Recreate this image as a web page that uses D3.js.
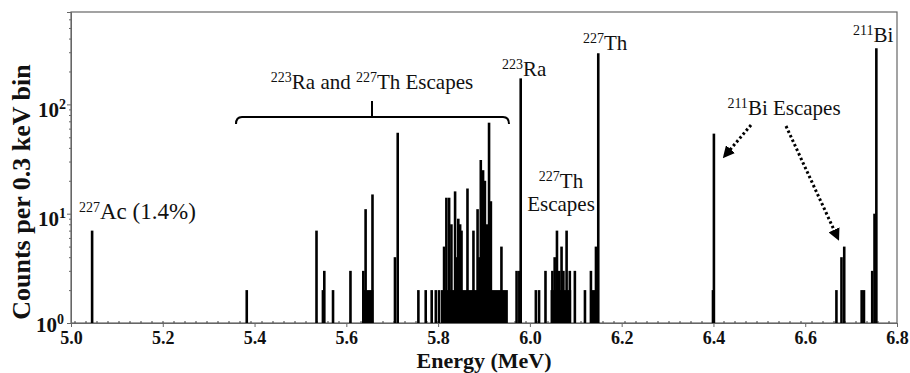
<!DOCTYPE html>
<html>
<head>
<meta charset="utf-8">
<script src="https://cdn.jsdelivr.net/npm/d3@7/dist/d3.min.js"></script>
<style>
  body { margin: 0; background: #fff; }
  svg { display: block; font-family: "Liberation Serif", "Times New Roman", serif; }
  .tick text { font-family: "Liberation Serif", serif; font-weight: bold; fill: #111; }
  .ann { font-size: 21px; fill: #111; white-space: pre; }
</style>
</head>
<body>
<svg width="910" height="373"></svg>
<script>
// spike energies (MeV) and counts per 0.3 keV bin
const spikeE = [5.046, 5.383, 5.535, 5.549, 5.552, 5.571, 5.609, 5.637, 5.642, 5.657,
  5.706, 5.712, 5.757, 5.773, 5.786, 5.795, 5.802, 5.813, 5.818, 5.824, 5.829, 5.837,
  5.840, 5.844, 5.848, 5.851, 5.864, 5.877, 5.886, 5.890, 5.893, 5.898, 5.902, 5.907,
  5.911, 5.915, 5.938, 5.971, 5.977, 5.980, 6.013, 6.020, 6.034, 6.049, 6.054, 6.059,
  6.064, 6.069, 6.073, 6.080, 6.087, 6.098, 6.120, 6.133, 6.144, 6.149, 6.399, 6.401,
  6.668, 6.679, 6.685, 6.723, 6.728, 6.746, 6.751, 6.755];
const spikeC = [7, 2, 7, 2, 3, 2, 3, 3, 11, 15,
  4, 55, 2, 2, 2, 2, 2, 5, 14, 14, 8, 16,
  4, 9, 8, 7, 17, 7, 11, 4, 31, 25, 20, 8,
  68, 13, 5, 3, 3, 173, 2, 2, 3, 3, 4, 7,
  3, 5, 3, 7, 3, 3, 2, 3, 5, 294, 2, 54,
  2, 4, 5, 2, 2, 3, 10, 326];

// dense low-count regions: start, end, counts
const blockStart = [5.637, 5.806, 6.045, 6.134];
const blockEnd = [5.659, 5.952, 6.090, 6.146];
const blockC = [2, 2, 2, 2];

const xTicks = [5.0, 5.2, 5.4, 5.6, 5.8, 6.0, 6.2, 6.4, 6.6, 6.8];
const yMajor = [1, 10, 100];
const yMinor = [2, 3, 4, 5, 6, 7, 8, 9, 20, 30, 40, 50, 60, 70, 80, 90, 200, 300, 400, 500, 600];

const svg = d3.select('svg');
const xScale = d3.scaleLinear().domain([5.0, 6.8]).range([71, 897]);
const yScale = d3.scaleLog().domain([1, 700]).range([323, 12]);

// frame
svg.append('rect')
  .attr('x', 71).attr('y', 12)
  .attr('width', 897 - 71).attr('height', 323 - 12)
  .attr('fill', 'none').attr('stroke', '#666').attr('stroke-width', 1.2);

// baseline dots
svg.append('line')
  .attr('x1', xScale(5.0) + 3).attr('x2', xScale(6.8) - 3)
  .attr('y1', yScale(1) - 1).attr('y2', yScale(1) - 1)
  .attr('stroke', '#444').attr('stroke-width', 1.2)
  .attr('stroke-dasharray', '2,9');

// blocks
svg.selectAll('rect.block')
  .data(d3.range(blockStart.length))
  .enter().append('rect')
  .attr('class', 'block')
  .attr('x', i => xScale(blockStart[i]))
  .attr('width', i => xScale(blockEnd[i]) - xScale(blockStart[i]))
  .attr('y', i => yScale(blockC[i]))
  .attr('height', i => yScale(1) - yScale(blockC[i]))
  .attr('fill', '#000');

// spikes
svg.selectAll('line.spike')
  .data(d3.zip(spikeE, spikeC))
  .enter().append('line')
  .attr('class', 'spike')
  .attr('x1', d => xScale(d[0])).attr('x2', d => xScale(d[0]))
  .attr('y1', yScale(1)).attr('y2', d => yScale(d[1]))
  .attr('stroke', '#000').attr('stroke-width', 2.6);

// x axis
const xAxis = svg.append('g')
  .attr('transform', `translate(0,${yScale(1)})`)
  .call(d3.axisBottom(xScale).tickValues(xTicks).tickSize(4).tickPadding(4).tickFormat(d3.format('.1f')));
xAxis.selectAll('text').attr('font-size', 18);

// y axis minor
const yMin = svg.append('g')
  .attr('transform', 'translate(71,0)')
  .call(d3.axisLeft(yScale).tickValues(yMinor).tickSize(2).tickFormat(''));
yMin.select('.domain').remove();

const yAxis = svg.append('g')
  .attr('transform', 'translate(71,0)')
  .call(d3.axisLeft(yScale).tickValues(yMajor).tickSize(4).tickFormat(''));
yAxis.selectAll('.tick').each(function (d) {
  const t = d3.select(this).append('text')
    .attr('x', d === 1 ? -7 : -5).attr('y', 0).attr('text-anchor', 'end').attr('fill', '#111');
  t.append('tspan').attr('font-size', 21).attr('dy', d === 1 ? 8 : 12).text('10');
  t.append('tspan').attr('font-size', 14).attr('dy', -8).text(Math.round(Math.log10(d)));
});

[xAxis, yAxis, yMin].forEach(a => {
  a.selectAll('.domain').attr('stroke', '#666');
  a.selectAll('.tick line').attr('stroke', '#666');
});

// axis titles
svg.append('text')
  .attr('x', 484).attr('y', 368)
  .attr('text-anchor', 'middle')
  .attr('font-weight', 'bold').attr('font-size', 22).attr('fill', '#111')
  .text('Energy (MeV)');
svg.append('text')
  .attr('transform', 'translate(30,192) rotate(-90)')
  .attr('text-anchor', 'middle')
  .attr('font-weight', 'bold').attr('font-size', 26).attr('fill', '#111')
  .text('Counts per 0.3 keV bin');

// annotations with superscripts
function note(x, y, parts, anchor) {
  const t = svg.append('text').attr('class', 'ann')
    .attr('x', x).attr('y', y).attr('text-anchor', anchor || 'start');
  let up = false;
  parts.forEach(p => {
    const sup = p[1];
    const s = t.append('tspan').text(p[0]);
    if (sup) { s.attr('font-size', 14).attr('dy', up ? 0 : -7); up = true; }
    else { s.attr('dy', up ? 7 : 0); up = false; }
  });
  return t;
}
note(79, 219, [['227', true], ['Ac (1.4%)', false]]).style('font-size', '23px');
note(372, 89, [['223', true], ['Ra and ', false], ['227', true], ['Th Escapes', false]], 'middle');
note(502, 76, [['223', true], ['Ra', false]]);
note(583, 50, [['227', true], ['Th', false]]);
note(561, 188, [['227', true], ['Th', false]], 'middle');
note(561, 211, [['Escapes', false]], 'middle');
note(853, 42, [['211', true], ['Bi', false]]);
note(784, 115, [['211', true], ['Bi Escapes', false]], 'middle');

// bracket
svg.append('path')
  .attr('d', 'M236,124 Q236,117 242,117 L503,117 Q509,117 509,124 M372,117 L372,101')
  .attr('fill', 'none').attr('stroke', '#000').attr('stroke-width', 2);

// dotted arrows
svg.append('defs').append('marker')
  .attr('id', 'head').attr('viewBox', '0 0 10 10')
  .attr('refX', 2).attr('refY', 5)
  .attr('markerWidth', 4).attr('markerHeight', 4)
  .attr('orient', 'auto')
  .append('path').attr('d', 'M0,0 L10,5 L0,10 Z').attr('fill', '#000');
const arrows = [[751, 125, 729, 151], [786, 126, 835, 232]];
svg.selectAll('line.arrow')
  .data(arrows)
  .enter().append('line')
  .attr('x1', d => d[0]).attr('y1', d => d[1])
  .attr('x2', d => d[2]).attr('y2', d => d[3])
  .attr('stroke', '#000').attr('stroke-width', 3)
  .attr('stroke-dasharray', '2.5,2.5')
  .attr('marker-end', 'url(#head)');
</script>
</body>
</html>
